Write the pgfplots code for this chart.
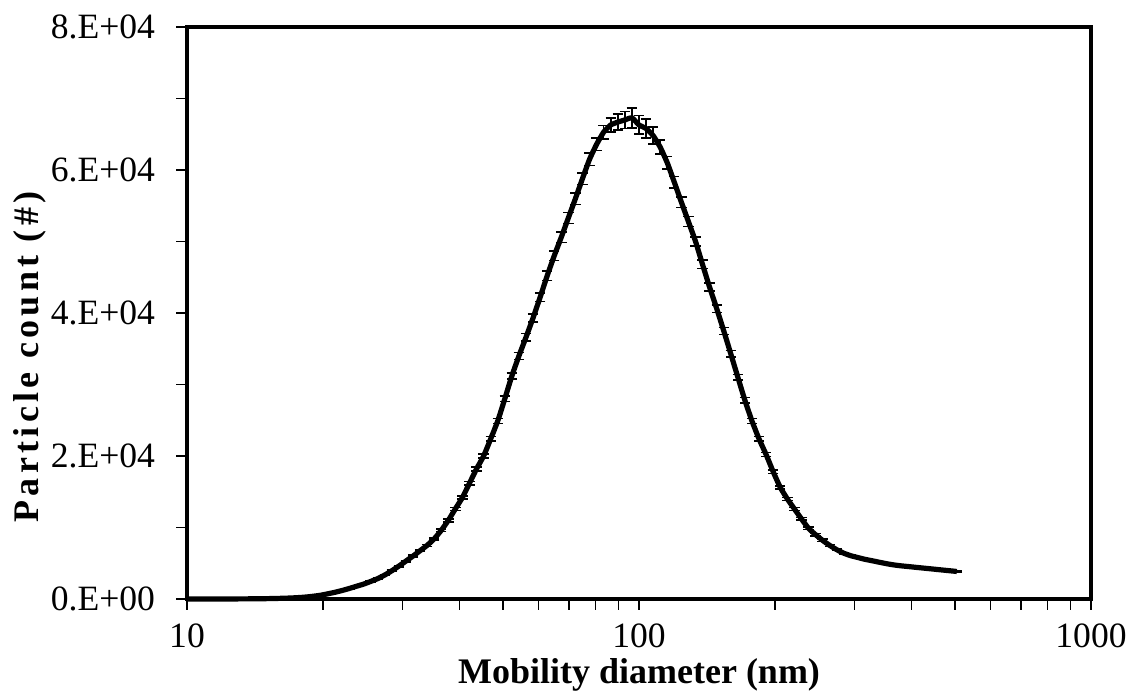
\documentclass[border=0pt]{standalone}
\usepackage{fontspec}
\setmainfont{Liberation Serif}
\usepackage{pgfplots}
\usepackage{pgfplotstable}
\pgfplotsset{compat=1.18}

% d (nm), count, error
\pgfplotstableread{
d n e
10.00 0 0
10.37 2 0
10.75 3 0
11.14 5 0
11.55 6 0
11.97 8 0
12.41 10 1
12.86 13 1
13.34 17 1
13.82 23 1
14.33 32 2
14.86 45 2
15.40 62 3
15.96 85 4
16.55 115 5
17.15 155 6
17.78 210 8
18.43 290 10
19.11 400 14
19.81 540 18
20.54 740 24
21.29 950 30
22.07 1200 36
22.88 1480 42
23.71 1780 50
24.58 2080 56
25.48 2450 64
26.42 2850 72
27.38 3350 80
28.39 3950 90
29.43 4600 100
30.50 5300 110
31.62 6000 120
32.78 6750 130
33.98 7500 140
35.22 8400 150
36.52 9600 170
37.86 11000 190
39.24 12600 210
40.68 14200 230
42.17 16200 250
43.71 18200 280
45.32 20000 300
46.98 22400 330
48.70 24900 360
50.48 28000 400
52.33 31200 440
54.25 34000 480
56.23 36600 520
58.29 39300 560
60.43 42200 600
62.64 45200 640
64.94 48000 680
67.32 50600 720
69.78 53300 760
72.34 56000 800
74.99 58800 820
77.74 61500 850
80.59 63600 900
83.54 65300 950
86.60 66300 1000
89.78 66700 1100
93.06 67000 1200
96.47 67300 1400
100.0 66300 1300
103.7 65800 1300
107.5 64800 1200
111.4 63200 1000
115.5 61000 900
119.7 58300 800
124.1 55500 750
128.6 52800 700
133.4 50000 650
138.2 46800 600
143.3 43600 560
148.6 40600 520
154.0 37500 480
159.6 34300 440
165.5 31000 400
171.5 27800 370
177.8 24900 340
184.3 22400 310
191.1 20200 290
198.1 17800 260
205.4 15600 240
212.9 14000 220
220.7 12600 200
228.8 11200 180
237.1 9900 170
245.8 9000 160
254.8 8200 150
264.2 7500 140
273.8 6900 130
283.9 6400 120
294.3 6050 115
305.0 5800 110
316.2 5550 105
327.8 5350 100
339.8 5150 100
352.2 4950 95
365.2 4780 95
378.6 4650 90
392.4 4550 90
406.8 4450 90
421.7 4350 85
437.1 4250 85
453.2 4150 85
469.8 4050 80
487.0 3950 80
504.8 3850 80
}\psd

\begin{document}
\begin{tikzpicture}
\begin{axis}[
    at={(0,0)}, anchor=south west,
    scale only axis,
    width=452pt, height=286pt,
    xmode=log,
    xmin=10, xmax=1000,
    ymin=0, ymax=80000,
    log basis x=10,
    xtick={10,100,1000},
    xticklabels={10,100,1000},
    minor xtick={20,30,40,50,60,70,80,90,200,300,400,500,600,700,800,900},
    ytick={0,20000,40000,60000,80000},
    yticklabels={0.E+00,2.E+04,4.E+04,6.E+04,8.E+04},
    minor ytick={10000,30000,50000,70000},
    scaled y ticks=false,
    tick align=outside,
    xtick pos=bottom, ytick pos=left,
    major tick length=5.5pt, minor tick length=5.5pt,
    every tick/.style={black, line width=0.6pt},
    axis line style={line width=1.7pt},
    tick label style={font=\fontsize{17.8}{20}\selectfont},
    yticklabel style={xshift=-7pt},
    xticklabel style={yshift=-3.5pt},
    /pgf/number format/assume math mode=true,
    xlabel={\textbf{Mobility diameter (nm)}},
    ylabel={\bfseries\addfontfeature{LetterSpace=12}Particle count (\#)},
    label style={font=\fontsize{18}{20}\selectfont},
    xlabel style={at={(axis description cs:0.5,-0.2565)}, anchor=center, yshift=35.5pt},
    ylabel style={at={(axis description cs:-0.1737,0.423)}, anchor=center},
    clip=false,
]
\addplot[black, line width=2.6pt, smooth, tension=0.3,
    error bars/.cd, y dir=both, y explicit,
    error bar style={line width=0.8pt, black},
    error mark options={rotate=90, mark size=2.6pt, line width=0.8pt, black}]
    table[x=d, y=n, y error=e] {\psd};
\end{axis}
\pgfresetboundingbox
\path[use as bounding box] (-93.5pt,-46pt) rectangle (472.5pt,299.5pt);
\end{tikzpicture}
\end{document}
